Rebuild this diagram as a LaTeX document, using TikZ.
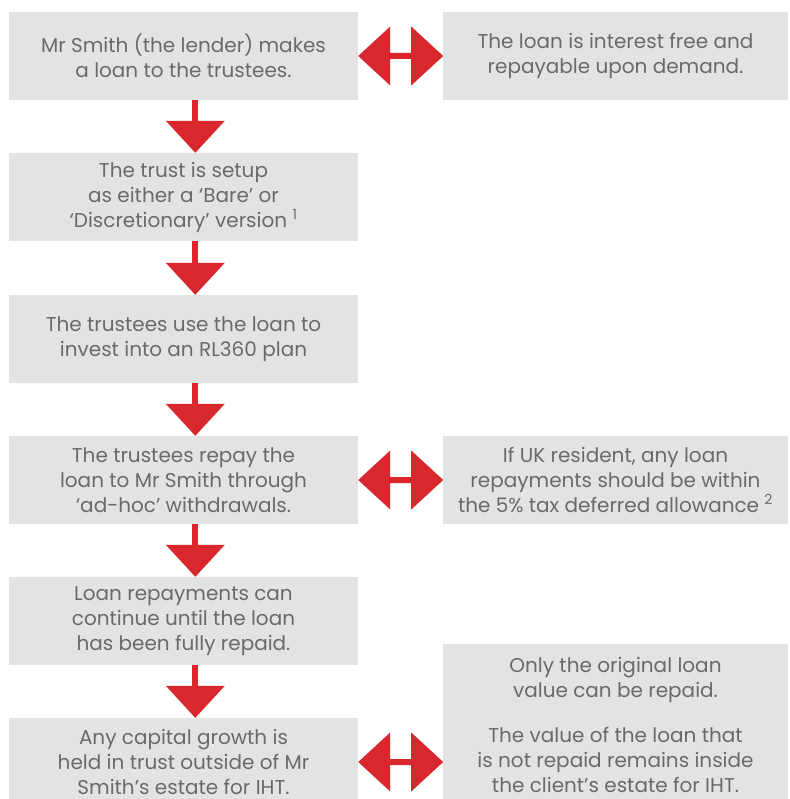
\documentclass[tikz,border=0pt]{standalone}
\usepackage{fontspec}
\setmainfont{Poppins}
\usepackage{xcolor}
\usetikzlibrary{positioning,calc}
\definecolor{boxgrey}{RGB}{227, 227, 227}
\definecolor{textgrey}{RGB}{105, 106, 109}
\definecolor{arrowred}{RGB}{217, 39, 46}

\tikzset{
  stepbox/.style={fill=boxgrey, text=textgrey, align=center, inner sep=0pt,
    minimum width=349, minimum height=88,
    font=\fontsize{20}{25}\selectfont},
  notebox/.style={stepbox, minimum width=345}
}

% red arrow pointing down from one step to the next
\newcommand{\flowdown}[2]{%
  \fill[arrowred] ($(#1.south west)+(183.5,0)$) rectangle ($(#2.north west)+(189.5,-31)$);
  \fill[arrowred] ($(#2.north west)+(157,-32)$) -- ($(#2.north west)+(216,-32)$)
    -- ($(#2.north west)+(186.5,0)$) -- cycle;}
% red double arrow between a step and its note
\newcommand{\flowboth}[2]{%
  \fill[arrowred] (#1.east) -- ++(32,-29.5) -- ++(0,26.5) -- ++(21,0) -- ++(0,-26.5)
    -- ++(32,29.5) -- ++(-32,29.5) -- ++(0,-26.5) -- ++(-21,0) -- ++(0,26.5) -- cycle;}

\begin{document}
\begin{tikzpicture}[x=1pt, y=-1pt]
    \useasboundingbox[fill=white] (0,0) rectangle (789,799);
    % steps
    \node[stepbox] (lender)   at (183.5, 56)  {Mr Smith (the lender) makes\\a loan to the trustees.};
    \node[stepbox] (setup)    at (183.5, 197) {The trust is setup\\as either a ‘Bare’ or\\‘Discretionary’ version \textsuperscript{1}};
    \node[stepbox] (invest)   at (183.5, 339) {The trustees use the loan to\\invest into an RL360 plan};
    \node[stepbox] (repay)    at (183.5, 480) {The trustees repay the\\loan to Mr Smith through\\‘ad-hoc’ withdrawals.};
    \node[stepbox] (continue) at (183.5, 621) {Loan repayments can\\continue until the loan\\has been fully repaid.};
    \node[stepbox] (growth)   at (183.5, 762) {Any capital growth is\\held in trust outside of Mr\\Smith’s estate for IHT.};
    % notes
    \node[notebox] (free)      at (615.5, 56)  {The loan is interest free and\\repayable upon demand.};
    \node[notebox] (allowance) at (615.5, 480) {If UK resident, any loan\\repayments should be within\\the 5\% tax deferred allowance \textsuperscript{2}};
    \node[notebox, minimum height=162] (original) at (615.5, 725)
      {Only the original loan\\value can be repaid.\\[20pt]The value of the loan that\\is not repaid remains inside\\the client’s estate for IHT.};
    % arrows
    \flowdown{lender}{setup}
    \flowdown{setup}{invest}
    \flowdown{invest}{repay}
    \flowdown{repay}{continue}
    \flowdown{continue}{growth}
    \flowboth{lender}{free}
    \flowboth{repay}{allowance}
    \flowboth{growth}{original}
\end{tikzpicture}
\end{document}
